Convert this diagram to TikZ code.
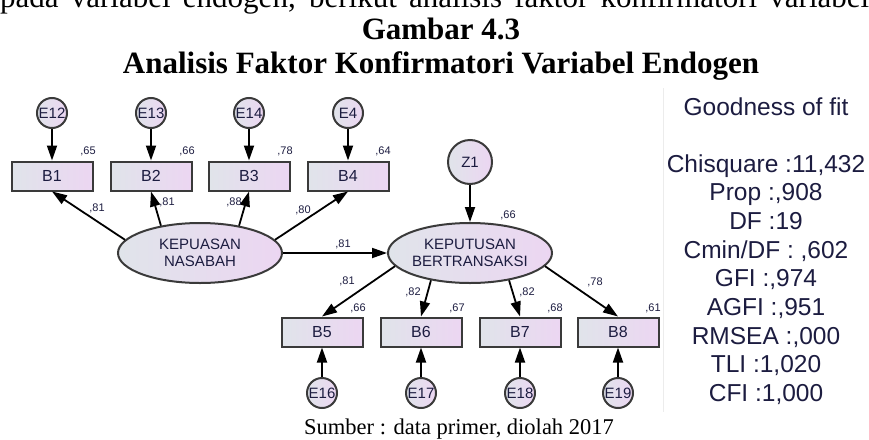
\documentclass[tikz,border=0pt]{standalone}
\usepackage{fontspec}
\setmainfont{Liberation Serif}
\newfontfamily\amosfont{Liberation Sans}
\usetikzlibrary{arrows.meta,shapes.geometric}

\definecolor{boxleft}{RGB}{224,228,234}
\definecolor{boxright}{RGB}{236,214,242}
\definecolor{edgegray}{RGB}{58,58,58}
\definecolor{labelink}{RGB}{28,28,64}

\tikzset{
  obs/.style={rectangle, draw=edgegray, line width=2pt, left color=boxleft, right color=boxright,
    minimum width=81pt, minimum height=29pt, inner sep=0pt,
    font=\amosfont\fontsize{16}{18}\selectfont, text=labelink},
  err/.style={circle, draw=edgegray, line width=2pt, left color=boxleft, right color=boxright,
    minimum size=30pt, inner sep=0pt, font=\amosfont\fontsize{15}{17}\selectfont, text=labelink},
  latent/.style={ellipse, draw=edgegray, line width=2pt, left color=boxleft, right color=boxright,
    minimum width=164pt, minimum height=60pt, inner sep=0pt, align=center,
    font=\amosfont\fontsize{15}{17}\selectfont, text=labelink},
  semarrow/.style={-{Triangle[length=15pt,width=10pt]}, line width=1.8pt, black},
  coef/.style={font=\amosfont\fontsize{11}{12}\selectfont, text=labelink, inner sep=0pt},
  gofline/.style={font=\amosfont\fontsize{24.5}{28}\selectfont, text=labelink, anchor=base, inner sep=0pt},
  bodytext/.style={font=\fontsize{31}{37}\selectfont, inner sep=0pt},
  titletext/.style={font=\bfseries\fontsize{31}{37}\selectfont, anchor=base, inner sep=0pt},
}

\begin{document}
\begin{tikzpicture}[x=1pt,y=-1pt]
\useasboundingbox (0,0) rectangle (869,439);
\clip (0,0) rectangle (869,439);

% running text and caption
\node[bodytext, anchor=base west] (intro) at (0,8)
  {\makebox[869pt][s]{pada variabel endogen, berikut analisis faktor konfirmatori variabel}};
\node[titletext] (gambar) at (441,39) {Gambar 4.3};
\node[titletext] (judul) at (441,73) {Analisis Faktor Konfirmatori Variabel Endogen};
\node[font=\fontsize{22.5}{27}\selectfont, anchor=base, inner sep=0pt] (sumber) at (459,434)
  {Sumber : data primer, diolah 2017};

% exogenous construct and its indicators
\node[err] (e12) at (52,113) {E12};
\node[err] (e13) at (151,113) {E13};
\node[err] (e14) at (249,113) {E14};
\node[err] (e4)  at (348,113) {E4};
\node[obs] (b1) at (52,176) {B1};
\node[obs] (b2) at (151,176) {B2};
\node[obs] (b3) at (249,176) {B3};
\node[obs] (b4) at (348,176) {B4};
\node[latent] (kn) at (200,253) {KEPUASAN\\NASABAH};

% endogenous construct and its indicators
\node[err, minimum size=44pt] (z1) at (470,162) {Z1};
\node[latent] (kb) at (470,253) {KEPUTUSAN\\BERTRANSAKSI};
\node[obs] (b5) at (322,332) {B5};
\node[obs] (b6) at (421,332) {B6};
\node[obs] (b7) at (520,332) {B7};
\node[obs] (b8) at (618,332) {B8};
\node[err] (e16) at (322,393) {E16};
\node[err] (e17) at (421,393) {E17};
\node[err] (e18) at (520,393) {E18};
\node[err] (e19) at (618,393) {E19};

% paths
\draw[semarrow] (e12) -- (b1);
\draw[semarrow] (e13) -- (b2);
\draw[semarrow] (e14) -- (b3);
\draw[semarrow] (e4) -- (b4);
\draw[semarrow] (kn.170) -- (b1.south);
\draw[semarrow] (kn.145) -- (b2.south);
\draw[semarrow] (kn.35) -- (b3.south);
\draw[semarrow] (kn.10) -- (b4.south);
\draw[semarrow] (kn.east) -- (kb.west);
\draw[semarrow] (z1.south) -- (kb.north);
\draw[semarrow] (kb.190) -- (b5.north);
\draw[semarrow] (kb.215) -- (b6.north);
\draw[semarrow] (kb.325) -- (b7.north);
\draw[semarrow] (kb.350) -- (b8.north);
\draw[semarrow] (e16.north) -- (b5.south);
\draw[semarrow] (e17.north) -- (b6.south);
\draw[semarrow] (e18.north) -- (b7.south);
\draw[semarrow] (e19.north) -- (b8.south);

% squared multiple correlations
\node[coef] (r1) at (88,151) {,65};
\node[coef] (r2) at (187,151) {,66};
\node[coef] (r3) at (285,151) {,78};
\node[coef] (r4) at (383,151) {,64};
\node[coef] (rkb) at (508,215) {,66};
\node[coef] (r5) at (358,308) {,66};
\node[coef] (r6) at (457,308) {,67};
\node[coef] (r7) at (555,308) {,68};
\node[coef] (r8) at (653,308) {,61};

% standardized loadings
\node[coef] (l1) at (97,208) {,81};
\node[coef] (l2) at (167,202) {,81};
\node[coef] (l3) at (234,202) {,88};
\node[coef] (l4) at (303,210) {,80};
\node[coef] (lkb) at (343,244) {,81};
\node[coef] (l5) at (347,281) {,81};
\node[coef] (l6) at (413,292) {,82};
\node[coef] (l7) at (527,292) {,82};
\node[coef] (l8) at (595,282) {,78};

% fit summary
\coordinate (rulea) at (663,88);
\coordinate (ruleb) at (663,412);
\draw[gray!15, line width=0.8pt] (rulea) -- (ruleb);
\node[gofline] (g0) at (766,115) {Goodness of fit};
\node[gofline] (g1) at (766,172) {Chisquare :11,432};
\node[gofline] (g2) at (766,200.7) {Prop :,908};
\node[gofline] (g3) at (766,229.4) {DF :19};
\node[gofline] (g4) at (766,258.1) {Cmin/DF : ,602};
\node[gofline] (g5) at (766,286.8) {GFI :,974};
\node[gofline] (g6) at (766,315.5) {AGFI :,951};
\node[gofline] (g7) at (766,344.2) {RMSEA :,000};
\node[gofline] (g8) at (766,372.9) {TLI :1,020};
\node[gofline] (g9) at (766,401.6) {CFI :1,000};
\end{tikzpicture}
\end{document}
